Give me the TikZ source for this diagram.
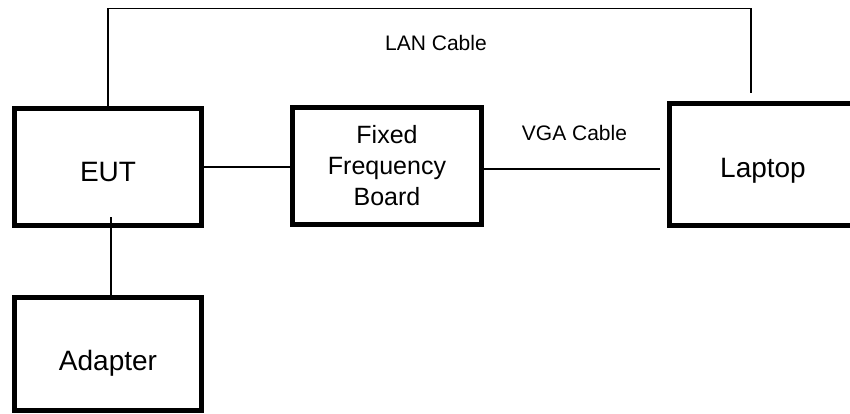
\documentclass[tikz,border=0pt]{standalone}
\usepackage{fontspec}
\setmainfont{Liberation Sans}
\begin{document}
\begin{tikzpicture}[x=1pt,y=-1pt,
  devbox/.style={draw=black, line width=5pt, rectangle, inner sep=0pt, align=center,
    font=\fontsize{28}{31}\selectfont, text depth=0pt},
  cable/.style={draw=black, line width=1.2pt},
  cablelabel/.style={anchor=base, inner sep=0pt, font=\fontsize{21}{24}\selectfont}]
\useasboundingbox[fill=white] (0,0) rectangle (850,414);
\node[devbox, minimum width=187pt, minimum height=117pt, text height=30pt] (eut) at (108,167) {EUT};
\node[devbox, minimum width=187pt, minimum height=113pt, text height=32pt] (adapter) at (108,354) {Adapter};
\node[devbox, minimum width=189pt, minimum height=117pt, font=\fontsize{25}{31}\selectfont, text depth=] (ffb) at (387,166) {Fixed\\Frequency\\Board};
\node[devbox, minimum width=187pt, minimum height=122pt, text height=25pt] (laptop) at (763,164.5) {Laptop};
\coordinate (lanCorner) at (751,8.5);
\coordinate (lanEnd) at (751,93);
\coordinate (vgaEnd) at (660,169);
\coordinate (eutIn) at (111,217);
\draw[cable] (eut.north) |- (lanCorner) -- (lanEnd);
\draw[cable] (eut.east) -- (eut.east -| ffb.west);
\draw[cable] (ffb.east |- vgaEnd) -- (vgaEnd);
\draw[cable] (eutIn) -- (eutIn |- adapter.north);
\node[cablelabel] (lanlabel) at (436,51) {LAN Cable};
\node[cablelabel] (vgalabel) at (574.5,141) {VGA Cable};
\end{tikzpicture}
\end{document}
